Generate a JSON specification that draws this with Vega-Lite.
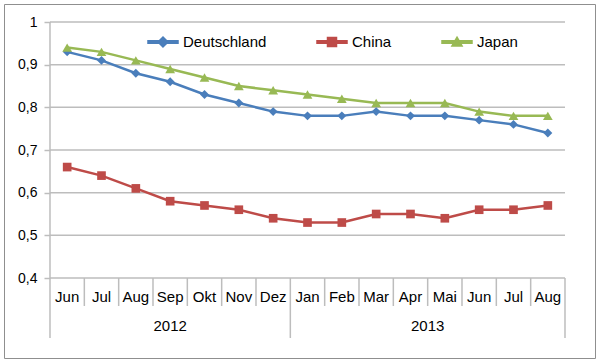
{
  "$schema": "https://vega.github.io/schema/vega-lite/v6.json",
  "autosize": {"type": "none"},
  "padding": {"left": 4, "top": 4, "right": 5, "bottom": 5},
  "width": 591,
  "height": 354,
  "background": "white",
  "config": {
    "view": {"stroke": "#8f8f8f", "strokeWidth": 1},
    "font": "Liberation Sans"
  },
  "datasets": {
    "series": [
      {"series": "Deutschland", "year": "2012", "month": "Jun", "i": 0, "v": 0.93},
      {"series": "Deutschland", "year": "2012", "month": "Jul", "i": 1, "v": 0.91},
      {"series": "Deutschland", "year": "2012", "month": "Aug", "i": 2, "v": 0.88},
      {"series": "Deutschland", "year": "2012", "month": "Sep", "i": 3, "v": 0.86},
      {"series": "Deutschland", "year": "2012", "month": "Okt", "i": 4, "v": 0.83},
      {"series": "Deutschland", "year": "2012", "month": "Nov", "i": 5, "v": 0.81},
      {"series": "Deutschland", "year": "2012", "month": "Dez", "i": 6, "v": 0.79},
      {"series": "Deutschland", "year": "2013", "month": "Jan", "i": 7, "v": 0.78},
      {"series": "Deutschland", "year": "2013", "month": "Feb", "i": 8, "v": 0.78},
      {"series": "Deutschland", "year": "2013", "month": "Mar", "i": 9, "v": 0.79},
      {"series": "Deutschland", "year": "2013", "month": "Apr", "i": 10, "v": 0.78},
      {"series": "Deutschland", "year": "2013", "month": "Mai", "i": 11, "v": 0.78},
      {"series": "Deutschland", "year": "2013", "month": "Jun", "i": 12, "v": 0.77},
      {"series": "Deutschland", "year": "2013", "month": "Jul", "i": 13, "v": 0.76},
      {"series": "Deutschland", "year": "2013", "month": "Aug", "i": 14, "v": 0.74},
      {"series": "China", "year": "2012", "month": "Jun", "i": 0, "v": 0.66},
      {"series": "China", "year": "2012", "month": "Jul", "i": 1, "v": 0.64},
      {"series": "China", "year": "2012", "month": "Aug", "i": 2, "v": 0.61},
      {"series": "China", "year": "2012", "month": "Sep", "i": 3, "v": 0.58},
      {"series": "China", "year": "2012", "month": "Okt", "i": 4, "v": 0.57},
      {"series": "China", "year": "2012", "month": "Nov", "i": 5, "v": 0.56},
      {"series": "China", "year": "2012", "month": "Dez", "i": 6, "v": 0.54},
      {"series": "China", "year": "2013", "month": "Jan", "i": 7, "v": 0.53},
      {"series": "China", "year": "2013", "month": "Feb", "i": 8, "v": 0.53},
      {"series": "China", "year": "2013", "month": "Mar", "i": 9, "v": 0.55},
      {"series": "China", "year": "2013", "month": "Apr", "i": 10, "v": 0.55},
      {"series": "China", "year": "2013", "month": "Mai", "i": 11, "v": 0.54},
      {"series": "China", "year": "2013", "month": "Jun", "i": 12, "v": 0.56},
      {"series": "China", "year": "2013", "month": "Jul", "i": 13, "v": 0.56},
      {"series": "China", "year": "2013", "month": "Aug", "i": 14, "v": 0.57},
      {"series": "Japan", "year": "2012", "month": "Jun", "i": 0, "v": 0.94},
      {"series": "Japan", "year": "2012", "month": "Jul", "i": 1, "v": 0.93},
      {"series": "Japan", "year": "2012", "month": "Aug", "i": 2, "v": 0.91},
      {"series": "Japan", "year": "2012", "month": "Sep", "i": 3, "v": 0.89},
      {"series": "Japan", "year": "2012", "month": "Okt", "i": 4, "v": 0.87},
      {"series": "Japan", "year": "2012", "month": "Nov", "i": 5, "v": 0.85},
      {"series": "Japan", "year": "2012", "month": "Dez", "i": 6, "v": 0.84},
      {"series": "Japan", "year": "2013", "month": "Jan", "i": 7, "v": 0.83},
      {"series": "Japan", "year": "2013", "month": "Feb", "i": 8, "v": 0.82},
      {"series": "Japan", "year": "2013", "month": "Mar", "i": 9, "v": 0.81},
      {"series": "Japan", "year": "2013", "month": "Apr", "i": 10, "v": 0.81},
      {"series": "Japan", "year": "2013", "month": "Mai", "i": 11, "v": 0.81},
      {"series": "Japan", "year": "2013", "month": "Jun", "i": 12, "v": 0.79},
      {"series": "Japan", "year": "2013", "month": "Jul", "i": 13, "v": 0.78},
      {"series": "Japan", "year": "2013", "month": "Aug", "i": 14, "v": 0.78}
    ],
    "grid": [{"g": 0.4}, {"g": 0.5}, {"g": 0.6}, {"g": 0.7}, {"g": 0.8}, {"g": 0.9}, {"g": 1.0}],
    "bounds": [
      {"b": -0.5, "level": "year"},
      {"b": 0.5, "level": "month"},
      {"b": 1.5, "level": "month"},
      {"b": 2.5, "level": "month"},
      {"b": 3.5, "level": "month"},
      {"b": 4.5, "level": "month"},
      {"b": 5.5, "level": "month"},
      {"b": 6.5, "level": "year"},
      {"b": 7.5, "level": "month"},
      {"b": 8.5, "level": "month"},
      {"b": 9.5, "level": "month"},
      {"b": 10.5, "level": "month"},
      {"b": 11.5, "level": "month"},
      {"b": 12.5, "level": "month"},
      {"b": 13.5, "level": "month"},
      {"b": 14.5, "level": "year"}
    ]
  },
  "layer": [
    {
      "data": {"name": "grid"},
      "mark": {"type": "rule", "color": "#bdbdbd", "strokeWidth": 1.5},
      "encoding": {
        "y": {"field": "g", "type": "quantitative", "title": null},
        "x": {"datum": -0.5, "type": "quantitative", "axis": null},
        "x2": {"datum": 14.5}
      }
    },
    {
      "data": {"name": "bounds"},
      "transform": [{"filter": "datum.level === 'month'"}],
      "mark": {"type": "rule", "color": "#bdbdbd", "strokeWidth": 1.5},
      "encoding": {
        "x": {"field": "b", "type": "quantitative", "axis": null},
        "y": {"datum": 0.4, "type": "quantitative", "title": null},
        "y2": {"datum": 0.3344}
      }
    },
    {
      "data": {"name": "bounds"},
      "transform": [{"filter": "datum.level === 'year'"}],
      "mark": {"type": "rule", "color": "#bdbdbd", "strokeWidth": 1.5},
      "encoding": {
        "x": {"field": "b", "type": "quantitative", "axis": null},
        "y": {"datum": 0.4, "type": "quantitative", "title": null},
        "y2": {"datum": 0.2594}
      }
    },
    {
      "data": {"name": "grid"},
      "transform": [{"filter": "datum.g === 1"}],
      "mark": {"type": "rule", "color": "#bdbdbd", "strokeWidth": 1.5},
      "encoding": {
        "x": {"datum": -0.5, "type": "quantitative", "axis": null},
        "y": {"field": "g", "type": "quantitative", "title": null},
        "y2": {"datum": 0.4}
      }
    },
    {
      "data": {"name": "series"},
      "mark": {"type": "line", "strokeWidth": 2.5},
      "encoding": {
        "x": {"field": "i", "type": "quantitative", "axis": null,
              "scale": {"domain": [-1.8398, 15.3738], "nice": false, "zero": false}},
        "y": {"field": "v", "type": "quantitative", "title": null,
              "scale": {"domain": [0.2125, 1.04219], "nice": false, "zero": false},
              "axis": {"orient": "left", "offset": -46, "values": [0.4, 0.5, 0.6, 0.7, 0.8, 0.9, 1],
                       "domain": false, "grid": false, "tickSize": 6, "tickColor": "#bdbdbd", "tickWidth": 1.5,
                       "labelFontSize": 14, "labelColor": "#000000", "labelPadding": 7,
                       "labelFont": "Liberation Sans",
                       "labelExpr": "datum.value == 1 ? '1' : replace(format(datum.value, '.1f'), '.', ',')"}},
        "color": {"field": "series", "type": "nominal",
                  "scale": {"domain": ["Deutschland", "China", "Japan"], "range": ["#4a7ebb", "#be4b48", "#98b954"]},
                  "legend": {"orient": "none", "direction": "horizontal", "legendX": 143, "legendY": 22,
                             "title": null, "padding": 0, "symbolSize": 900, "columnPadding": 47,
                             "labelFontSize": 15, "labelColor": "#000000", "labelOffset": 4,
                             "labelFont": "Liberation Sans"}}
      }
    },
    {
      "data": {"name": "series"},
      "transform": [{"filter": "datum.series === 'Deutschland'"}],
      "mark": {"type": "point", "filled": true, "size": 80, "opacity": 1, "shape": "diamond"},
      "encoding": {
        "x": {"field": "i", "type": "quantitative", "axis": null},
        "y": {"field": "v", "type": "quantitative", "title": null},
        "fill": {"field": "series", "type": "nominal", "legend": null,
                 "scale": {"domain": ["Deutschland", "China", "Japan"], "range": ["#4a7ebb", "#be4b48", "#98b954"]}}
      }
    },
    {
      "data": {"name": "series"},
      "transform": [{"filter": "datum.series === 'China'"}],
      "mark": {"type": "point", "filled": true, "size": 75, "opacity": 1, "shape": "square"},
      "encoding": {
        "x": {"field": "i", "type": "quantitative", "axis": null},
        "y": {"field": "v", "type": "quantitative", "title": null},
        "fill": {"field": "series", "type": "nominal", "legend": null}
      }
    },
    {
      "data": {"name": "series"},
      "transform": [{"filter": "datum.series === 'Japan'"}],
      "mark": {"type": "point", "filled": true, "size": 95, "opacity": 1, "shape": "triangle-up"},
      "encoding": {
        "x": {"field": "i", "type": "quantitative", "axis": null},
        "y": {"field": "v", "type": "quantitative", "title": null},
        "fill": {"field": "series", "type": "nominal", "legend": null}
      }
    },
    {
      "data": {"name": "series"},
      "transform": [{"filter": "datum.i < 0"}],
      "mark": {"type": "point", "filled": true, "opacity": 1},
      "encoding": {
        "x": {"field": "i", "type": "quantitative", "axis": null},
        "y": {"field": "v", "type": "quantitative", "title": null},
        "color": {"field": "series", "type": "nominal"},
        "shape": {"field": "series", "type": "nominal", "legend": null,
                  "scale": {"domain": ["Deutschland", "China", "Japan"],
                            "range": ["M-1,-0.083H1V0.083H-1ZM0,-0.33L0.33,0L0,0.33L-0.33,0Z",
                                      "M-1,-0.083H1V0.083H-1ZM-0.3,-0.3H0.3V0.3H-0.3Z",
                                      "M-1,-0.083H1V0.083H-1ZM0,-0.32L0.34,0.27H-0.34Z"]}}
      }
    },
    {
      "data": {"name": "series"},
      "transform": [{"filter": "datum.series === 'Deutschland'"}],
      "mark": {"type": "text", "fontSize": 15, "baseline": "middle", "align": "center", "color": "#000000", "font": "Liberation Sans"},
      "encoding": {
        "x": {"field": "i", "type": "quantitative", "axis": null},
        "y": {"datum": 0.356, "type": "quantitative", "title": null},
        "text": {"field": "month"}
      }
    },
    {
      "data": {"name": "series"},
      "transform": [
        {"filter": "datum.series === 'Deutschland'"},
        {"aggregate": [{"op": "mean", "field": "i", "as": "c"}], "groupby": ["year"]}
      ],
      "mark": {"type": "text", "fontSize": 15, "baseline": "middle", "align": "center", "color": "#000000", "font": "Liberation Sans"},
      "encoding": {
        "x": {"field": "c", "type": "quantitative", "axis": null},
        "y": {"datum": 0.2875, "type": "quantitative", "title": null},
        "text": {"field": "year"}
      }
    }
  ]
}
